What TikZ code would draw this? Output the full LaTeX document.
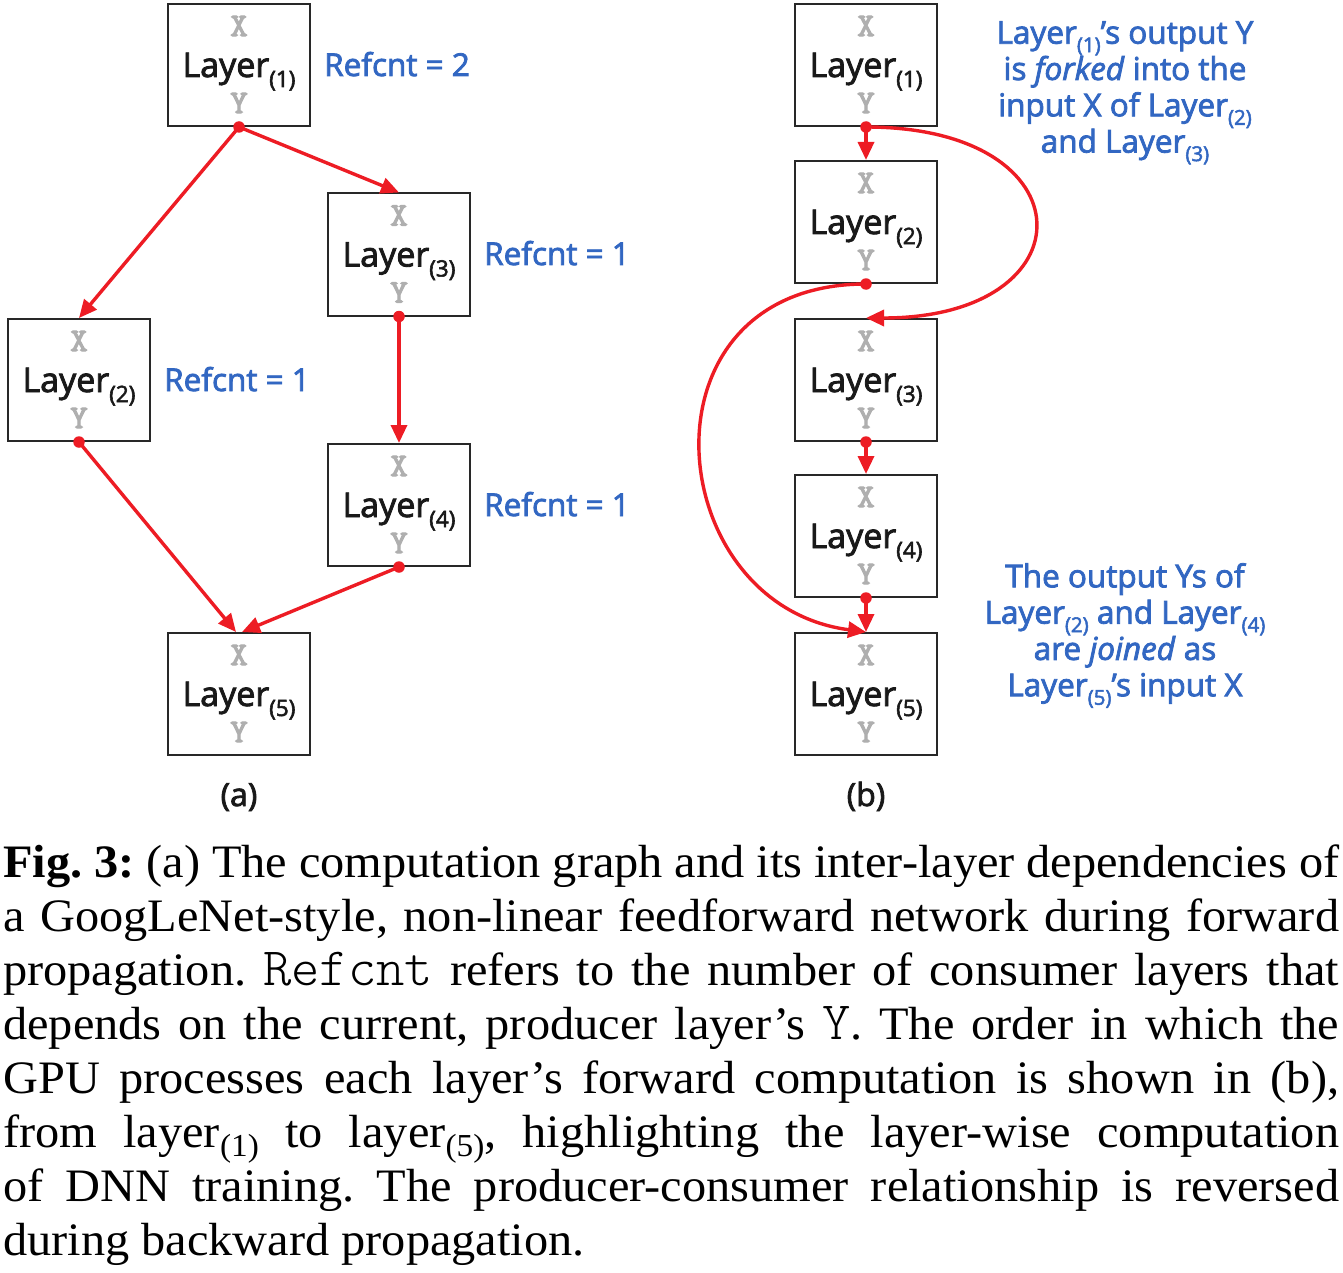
\documentclass[tikz,border=0pt]{standalone}
\usepackage{fontspec}
\setmainfont[FakeStretch=1.04]{Liberation Serif}
\setmonofont[Scale=1.16]{lmmonolt10-regular.otf}
\newfontfamily\dsans[FakeBold=2.5]{Open Sans}
\newfontfamily\dmono[FakeBold=3.5]{lmmono10-regular.otf}
\usetikzlibrary{arrows.meta,calc}
\definecolor{arrRed}{RGB}{237,28,36}
\definecolor{annBlue}{RGB}{50,103,194}
\definecolor{xyGray}{RGB}{175,175,175}
\definecolor{boxLine}{RGB}{40,40,40}
\newcommand\tightlines{\lineskiplimit=-100pt\relax}
\newcommand\lay[1]{Layer{\fontsize{22.5}{22.5}\selectfont\raisebox{-10pt}{(#1)}}}
\newcommand\lays[1]{Layer{\fontsize{20.5}{20.5}\selectfont\raisebox{-8.5pt}{(#1)}}}
\newcommand\capsub[1]{{\fontsize{32}{32}\selectfont\raisebox{-9pt}{(#1)}}}
\newcommand\layerbox[4]{%
  \node[box] (#1) at (#2,#3) {};
  \node[xy] (#1x) at ([yshift=39pt]#1.center) {X};
  \node[lyr, anchor=base] (#1t) at ([yshift=-12pt]#1.center) {\lay{#4}};
  \node[xy] (#1y) at ([yshift=-38pt]#1.center) {Y};}
\tikzset{
  box/.style={draw=boxLine, line width=2pt, minimum width=142pt, minimum height=122pt, inner sep=0pt},
  lyr/.style={font=\dsans\fontsize{34}{34}\selectfont, inner sep=0pt, text=black!90},
  xy/.style={font=\dmono\fontsize{33}{33}\selectfont, text=xyGray, inner sep=0pt},
  ann/.style={font=\dsans\fontsize{31.5}{36.3}\selectfont\tightlines, text=annBlue, inner sep=0pt},
  lbl/.style={font=\dsans\fontsize{32}{32}\selectfont, text=black!90, inner sep=0pt},
  arr/.style={draw=arrRed, line width=3.4pt, -{Triangle[length=18pt,width=16pt]}},
  dotc/.style={circle, fill=arrRed, inner sep=0pt, minimum size=11.5pt}
}
\begin{document}
\begin{tikzpicture}[x=1pt,y=-1pt]
\useasboundingbox (0,0) rectangle (1343,1273);
% panel (a)
\layerbox{A1}{239}{65}{1}
\layerbox{A3}{399}{254.5}{3}
\layerbox{A2}{79}{380}{2}
\layerbox{A4}{399}{505}{4}
\layerbox{A5}{239}{694}{5}
\node[ann, anchor=base west] (R1) at (324,76) {Refcnt = 2};
\node[ann, anchor=base west] (R3) at (484,265) {Refcnt = 1};
\node[ann, anchor=base west] (R2) at (164,391) {Refcnt = 1};
\node[ann, anchor=base west] (R4) at (484,516) {Refcnt = 1};
\draw[arr] (A1.south) -- (A2.north);
\draw[arr] (A1.south) -- (A3.north);
\draw[arr] (A3.south) -- (A4.north);
\draw[arr] (A2.south) -- ([xshift=-3pt]A5.north);
\draw[arr] (A4.south) -- ([xshift=3pt]A5.north);
\node[dotc] (dA1) at (A1.south) {};
\node[dotc] (dA2) at (A2.south) {};
\node[dotc] (dA3) at (A3.south) {};
\node[dotc] (dA4) at (A4.south) {};
\node[lbl, anchor=base] (la) at (239,806) {(a)};
% panel (b)
\layerbox{B1}{866}{65}{1}
\layerbox{B2}{866}{222}{2}
\layerbox{B3}{866}{380}{3}
\layerbox{B4}{866}{536}{4}
\layerbox{B5}{866}{694}{5}
\draw[arr] (B1.south) -- (B2.north);
\draw[arr] (B3.south) -- (B4.north);
\draw[arr] (B4.south) -- (B5.north);
\draw[arr] (B1.south) .. controls +(225,0) and +(225,0) .. (B3.north);
\draw[arr] (B2.south) .. controls +(-234,0) and +(-206,-27) .. (B5.north);
\node[dotc] (dB1) at (B1.south) {};
\node[dotc] (dB2) at (B2.south) {};
\node[dotc] (dB3) at (B3.south) {};
\node[dotc] (dB4) at (B4.south) {};
\node[ann, align=center, anchor=north] (N1) at (1125,21) {\lays{1}’s output Y\\ is \textit{forked} into the\\ input X of \lays{2}\\ and \lays{3}};
\node[ann, align=center, anchor=north] (N2) at (1125,563) {The output Ys of\\ \lays{2} and \lays{4}\\ are \textit{joined} as\\ \lays{5}’s input X};
\node[lbl, anchor=base] (lb) at (866,806) {(b)};
% caption
\node[anchor=base west, inner sep=0pt] (cap) at (3,877) {\begin{minipage}[t]{1336pt}\fontsize{46.5}{54}\selectfont\frenchspacing
\hbox to\linewidth{\textbf{Fig. 3:} (a) The computation graph and its inter-layer dependencies of}
\hbox to\linewidth{a GoogLeNet-style, non-linear feedforward network during forward}
\hbox to\linewidth{propagation. \texttt{Refcnt} refers to the number of consumer layers that}
\hbox to\linewidth{depends on the current, producer layer’s \texttt{Y}. The order in which the}
\hbox to\linewidth{GPU processes each layer’s forward computation is shown in (b),}
\hbox to\linewidth{from layer\capsub{1} to layer\capsub{5}, highlighting the layer-wise computation}
\hbox to\linewidth{of DNN training. The producer-consumer relationship is reversed}
\hbox to\linewidth{during backward propagation.\hfil}
\end{minipage}};
\end{tikzpicture}
\end{document}
